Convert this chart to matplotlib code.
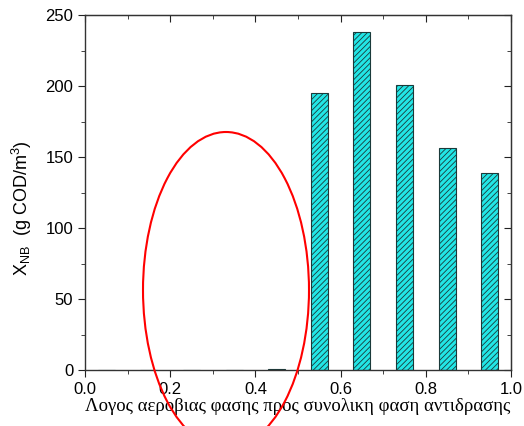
import numpy as np
import matplotlib.pyplot as plt
from matplotlib.patches import Ellipse
from matplotlib.ticker import MultipleLocator

# Data
ratio = [0.05, 0.15, 0.25, 0.35, 0.45, 0.55, 0.65, 0.75, 0.85, 0.95]
xnb = [0, 0, 0, 0, 1, 195, 238, 201, 156, 139]

plt.rcParams['hatch.linewidth'] = 0.6
fig = plt.figure(figsize=(5.24, 4.26), dpi=100)
ax = fig.add_axes([85 / 524, 1 - 370 / 426, 426 / 524, 355 / 426])

ax.bar(ratio, xnb, width=0.04, color='#22e6e6', edgecolor='#1a3a3a',
       linewidth=0.8, hatch='//////')

ax.set_xlim(0, 1.0)
ax.set_ylim(0, 250)
ax.xaxis.set_major_locator(MultipleLocator(0.2))
ax.xaxis.set_minor_locator(MultipleLocator(0.1))
ax.yaxis.set_major_locator(MultipleLocator(50))
ax.yaxis.set_minor_locator(MultipleLocator(25))
for s in ax.spines.values():
    s.set_color('#333333')
    s.set_linewidth(1.0)
ax.tick_params(which='both', direction='out', labelsize=12, color='#222222')
ax.tick_params(which='major', length=5)
ax.tick_params(which='minor', length=3)

# mirror ticks on top / right pointing inward
top = ax.secondary_xaxis('top')
top.xaxis.set_major_locator(MultipleLocator(0.2))
top.xaxis.set_minor_locator(MultipleLocator(0.1))
top.tick_params(which='both', direction='in', labeltop=False, color='#222222')
top.tick_params(which='major', length=5)
top.tick_params(which='minor', length=3)
top.spines['top'].set_color('#444444')
right = ax.secondary_yaxis('right')
right.yaxis.set_major_locator(MultipleLocator(50))
right.yaxis.set_minor_locator(MultipleLocator(25))
right.tick_params(which='both', direction='in', labelright=False, color='#222222')
right.tick_params(which='major', length=5)
right.tick_params(which='minor', length=3)
right.spines['right'].set_color('#333333')

ax.set_xticks([0, 0.2, 0.4, 0.6, 0.8, 1.0])
ax.set_xticklabels(['0.0', '0.2', '0.4', '0.6', '0.8', '1.0'], family='Liberation Sans')
for lbl in ax.get_yticklabels():
    lbl.set_family('Liberation Sans')

ax.set_xlabel('Λογος αεροβιας φασης προς συνολικη φαση αντιδρασης',
              family='Liberation Serif', fontsize=13.5, labelpad=1)
ax.set_ylabel(r'X$_{\mathregular{NB}}$  (g COD/m$^{\mathregular{3}}$)',
              family='Liberation Sans', fontsize=13)
ax.yaxis.set_label_coords(-0.12, 0.455)

# red ellipse annotation
ell = Ellipse((226 / 524, 1 - 290 / 426), 166 / 524, 316 / 426,
              transform=fig.transFigure, fill=False, edgecolor='red',
              linewidth=1.5, clip_on=False)
fig.patches.append(ell)

fig.savefig('out.png', dpi=100)
